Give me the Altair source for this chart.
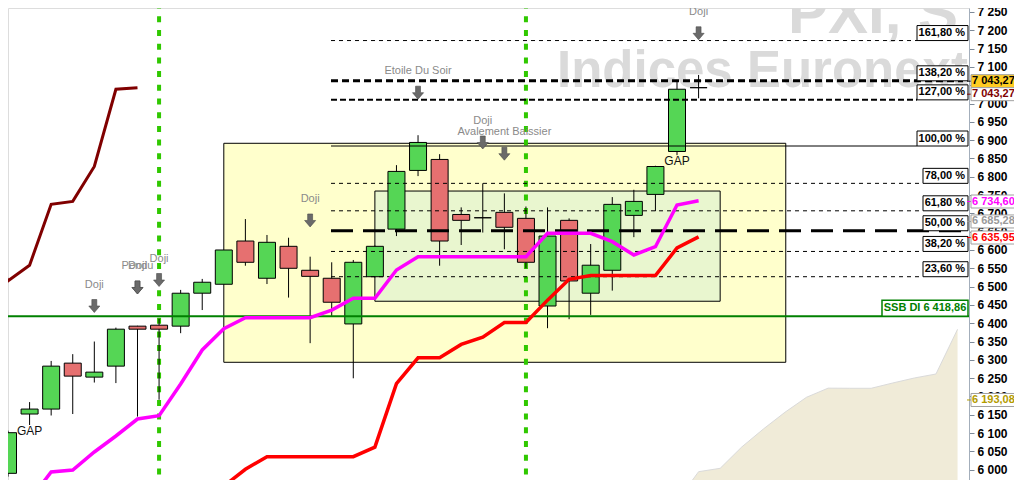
import altair as alt
import pandas as pd

# ---------------- data ----------------
bar_index = list(range(33))
opens = [5990, 6152, 6165.5, 6291, 6252.8, 6282.8, 6392, 6394.6, 6392, 6482, 6506.4, 6624.5, 6522.8, 6610,
         6544.6, 6522.8, 6398, 6527, 6657, 6817.3, 6847.3, 6697, 6688, 6702.8, 6686.4, 6447, 6681, 6482,
         6544.6, 6694.5, 6751.8, 6869, 7043.27]
highs = [6106.5, 6184.6, 6297, 6315.5, 6350, 6388, 6393, 6412, 6491, 6521, 6600, 6684.5, 6641, 6633.5,
         6581.7, 6566.4, 6572.7, 6612, 6831.7, 6913.5, 6861.7, 6716.4, 6782, 6754.6, 6718.7, 6716.4, 6686.4,
         6616.3, 6744.5, 6764.5, 6830, 7063.5, 7078]
lows = [5981, 6122, 6148, 6152, 6238, 6236.5, 6145, 6191, 6372.8, 6436, 6506.4, 6557, 6507, 6470, 6345.5,
        6420, 6249.6, 6525, 6638, 6801.8, 6557, 6613.6, 6647.6, 6602, 6550, 6386.4, 6411, 6422.7, 6489,
        6635, 6706, 6859, 7014.3]
closes = [6101, 6165.5, 6282.8, 6255.5, 6266.4, 6383.7, 6383.7, 6383.7, 6481.9, 6511.9, 6600, 6566.4, 6621,
          6550, 6528, 6457.3, 6566.4, 6610, 6814.6, 6893.7, 6624.5, 6681, 6688, 6662, 6566.4, 6638, 6515.4,
          6558.4, 6724.6, 6732.7, 6828, 7039, 7043.27]

tenkan_index = list(range(1, 33))
tenkan = [5917, 5993.7, 5999.1, 6048.3, 6092, 6138.4, 6147.5, 6234, 6326.9, 6385, 6415, 6415, 6415, 6415,
          6436, 6468, 6468, 6545.4, 6581.7, 6581.7, 6581.7, 6581.7, 6581.7, 6581.7, 6645.6, 6645.6, 6645.6,
          6622.7, 6586.3, 6609, 6722.9, 6734.6]
kijun_index = list(range(9, 33))
kijun = [5914, 5955, 6001, 6035.6, 6035.6, 6035.6, 6035.6, 6035.6, 6061.5, 6235, 6305.6, 6305.6, 6342,
         6362, 6402, 6402, 6463, 6520, 6530, 6530, 6530, 6530, 6605.5, 6635.95]
chikou_index = list(range(-1, 7))
chikou = [6638, 6515.4, 6558.4, 6724.6, 6732.7, 6828, 7039, 7043.27]
cloud_index = list(range(31, 45))
cloud_top = [5914, 5994.5, 6003.7, 6062, 6111, 6156.7, 6197.7, 6222.6, 6222.3, 6222.3, 6236.8, 6250.4,
             6261.3, 6383.4]

fib_labels = ["23,60 %", "38,20 %", "50,00 %", "61,80 %", "78,00 %", "100,00 %", "127,00 %", "138,20 %", "161,80 %"]
fib_values = [6527, 6596, 6652.5, 6707, 6782, 6884, 7010, 7062, 7172]

ssb_level = 6418.86
ssb_text = "SSB DI 6 418,86"

tag_values = [7043.27, 7043.27, 6734.60, 6685.28, 6635.95, 6193.08]
tag_texts = ["7 043,27", "7 043,27", "6 734,60", "6 685,28", "6 635,95", "6 193,08"]

ann_index = [4, 6, 6, 7, 14, 19, 22, 23, 32]
ann_labels = ["Doji", "Pendu", "Doji", "Doji", "Doji", "Etoile Du Soir", "Doji", "Avalement Baissier", "Doji"]
ann_levels = [6447, 6497.6, 6497.6, 6518, 6680.6, 7029.6, 6893.6, 6863, 7191.8]

gap_index = [1, 31]
signal_index = [7, 24]

zone_x0 = [10, 17]
zone_x1 = [36.04, 33]
zone_low = [6293.3, 6460]
zone_high = [6891.4, 6761]

# ---------------- layout ----------------
W, H = 961, 472
X_DOM = [0, 44.53]
Y_DOM = [5971.8, 7260.9]
SX = W / X_DOM[1]                    # px per bar
PPX = (Y_DOM[1] - Y_DOM[0]) / H      # price per px
FONT = "Liberation Sans"

xs = alt.Scale(domain=X_DOM, nice=False, zero=False)
ys = alt.Scale(domain=Y_DOM, nice=False, zero=False)
yaxis = alt.Axis(orient="right", values=list(range(5950, 7300, 50)),
                 labelExpr="replace(format(datum.value, ','), ',', ' ')",
                 title=None, grid=False, domainColor="#A3AEBB", tickColor="#7D8A99",
                 tickSize=5, labelPadding=3, labelFont=FONT, labelFontSize=12,
                 labelFontWeight="bold", labelColor="#000000", labelOverlap=False,
                 labelBound=False, labelFlush=False)


def X(f):
    return alt.X(f"{f}:Q", scale=xs, axis=None)


def Y(f):
    return alt.Y(f"{f}:Q", scale=ys, axis=yaxis)


layers = []

# watermark
layers.append(alt.Chart(pd.DataFrame({"t": ["PXI, S"]})).mark_text(
    align="left", baseline="alphabetic", font=FONT, fontWeight="bold", fontSize=60,
    color="#DADADA", clip=True).encode(x=alt.value(780), y=alt.value(25), text="t:N"))
layers.append(alt.Chart(pd.DataFrame({"t": ["Indices Euronext"]})).mark_text(
    align="left", baseline="alphabetic", font=FONT, fontWeight="bold", fontSize=51,
    color="#DADADA", clip=True).encode(x=alt.value(549), y=alt.value(79), text="t:N"))

# cloud
cloud_df = pd.DataFrame({"i": cloud_index, "v": cloud_top})
layers.append(alt.Chart(cloud_df).mark_area(color="#F0EBD8", clip=True).encode(
    x=X("i"), y=Y("v"), y2=alt.datum(5900)))
layers.append(alt.Chart(cloud_df).mark_line(color="#DADADA", strokeWidth=1, clip=True).encode(
    x=X("i"), y=Y("v")))

# zones
zones = pd.DataFrame({"x0": zone_x0, "x1": zone_x1, "v0": zone_low, "v1": zone_high,
                      "fill": ["#FFFFCC", "#E9F6CF"]})
layers.append(alt.Chart(zones).mark_rect(stroke="black", strokeWidth=1).encode(
    x=X("x0"), x2="x1", y=Y("v0"), y2="v1", fill=alt.Fill("fill:N", scale=None)))

# vertical signal lines
layers.append(alt.Chart(pd.DataFrame({"i": signal_index})).mark_rule(
    color="#30C800", strokeWidth=4, strokeDash=[6, 7.7], strokeDashOffset=5.4).encode(x=X("i")))

# candles
cd = pd.DataFrame({"i": bar_index, "open": opens, "high": highs, "low": lows, "close": closes})
cd["dir"] = ["up" if c >= o else "down" for o, c in zip(opens, closes)]
cd["b0"] = cd["i"] - 8.5 / SX
cd["b1"] = cd["i"] + 8.5 / SX
layers.append(alt.Chart(cd).mark_rule(color="black", strokeWidth=1).encode(
    x=X("i"), y=Y("low"), y2="high"))
layers.append(alt.Chart(cd).mark_rect(stroke="black", strokeWidth=1).encode(
    x=X("b0"), x2="b1", y=Y("open"), y2="close",
    fill=alt.Fill("dir:N", scale=alt.Scale(domain=["up", "down"], range=["#55D655", "#E67070"]),
                  legend=None)))

# fibonacci lines
fib_style = {
    "23,60 %": ([4, 4], 1, 915), "38,20 %": ([4, 4], 1, 915), "50,00 %": ([22, 10], 3, 955),
    "61,80 %": ([4, 4], 1, 915), "78,00 %": ([4, 4], 1, 915), "100,00 %": ([1, 0], 1, 909),
    "127,00 %": ([6, 3], 2, 909), "138,20 %": ([7, 4], 3, 955), "161,80 %": ([4, 4], 1, 909),
}
fib = pd.DataFrame({"pct": fib_labels, "v": fib_values})
fib["x0"] = 323 / SX
fib["x1"] = [fib_style[p][2] / SX for p in fib_labels]
for p in fib_labels:
    dash, sw, _ = fib_style[p]
    layers.append(alt.Chart(fib).transform_filter(alt.datum.pct == p).mark_rule(
        color="black", strokeWidth=sw, strokeDash=dash).encode(x=X("x0"), x2="x1", y=Y("v")))

# SSB line
layers.append(alt.Chart(pd.DataFrame({"v": [ssb_level]})).mark_rule(
    color="#008000", strokeWidth=2).encode(y=Y("v")))

# ichimoku lines
layers.append(alt.Chart(pd.DataFrame({"i": chikou_index, "v": chikou})).mark_line(
    color="#800000", strokeWidth=3, clip=True).encode(x=X("i"), y=Y("v")))
layers.append(alt.Chart(pd.DataFrame({"i": tenkan_index, "v": tenkan})).mark_line(
    color="#FF00FF", strokeWidth=3.5, clip=True).encode(x=X("i"), y=Y("v")))
layers.append(alt.Chart(pd.DataFrame({"i": kijun_index, "v": kijun})).mark_line(
    color="#FF0000", strokeWidth=3.5, clip=True).encode(x=X("i"), y=Y("v")))

# pattern annotations
ARROW = "M-0.38,-1 L0.38,-1 L0.38,0 L0.85,0 L0,1 L-0.85,0 L-0.38,0 Z"
ann = pd.DataFrame({"i": ann_index, "label": ann_labels, "v": ann_levels})
layers.append(alt.Chart(ann).mark_point(shape=ARROW, filled=True, size=169, fill="#6A6A6A",
                                        stroke="#4A4A4A", strokeWidth=0.6, opacity=1).encode(
    x=X("i"), y=Y("v")))
layers.append(alt.Chart(ann).mark_text(dy=-21.5, font=FONT, fontSize=11, color="#8A8A8A").encode(
    x=X("i"), y=Y("v"), text="label:N"))

gap = cd[cd["i"].isin(gap_index)].assign(t="GAP")
layers.append(alt.Chart(gap).mark_text(baseline="top", dy=1, font=FONT, fontSize=12,
                                       color="#111111").encode(x=X("i"), y=Y("low"), text="t:N"))

# fibonacci label boxes
fib["bx0"] = [(909 if len(p) == 8 else 915) / SX for p in fib_labels]
fib["bx1"] = 960 / SX
fib["tx"] = 957 / SX
fib["vtop"] = fib["v"] + 15 * PPX
layers.append(alt.Chart(fib).mark_rect(fill="white", stroke="black", strokeWidth=1).encode(
    x=X("bx0"), x2="bx1", y=Y("v"), y2="vtop"))
layers.append(alt.Chart(fib).mark_text(align="right", baseline="middle", dy=-7.5, font=FONT,
                                       fontSize=11, fontWeight="bold", color="black").encode(
    x=X("tx"), y=Y("v"), text="pct:N"))

# SSB label
ssb = pd.DataFrame({"v": [ssb_level], "t": [ssb_text]})
ssb["vtop"] = ssb["v"] + 16 * PPX
ssb["bx0"] = 874 / SX
ssb["bx1"] = 960 / SX
ssb["tx"] = 917 / SX
layers.append(alt.Chart(ssb).mark_rect(fill="white", stroke="#008000", strokeWidth=1.5).encode(
    x=X("bx0"), x2="bx1", y=Y("v"), y2="vtop"))
layers.append(alt.Chart(ssb).mark_text(baseline="middle", dy=-8, font=FONT, fontSize=11,
                                       fontWeight="bold", color="#008000").encode(
    x=X("tx"), y=Y("v"), text="t:N"))

# price tags on the axis
tags = pd.DataFrame({"v": tag_values, "t": tag_texts,
                     "shift": [-6.5, 6.5, 0.8, 2.7, 0.7, 1.0],
                     "fill": ["#FFCC22", "white", "white", "white", "white", "white"],
                     "tc": ["#000000", "#800000", "#FF00FF", "#9A9A9A", "#FF0000", "#B39B00"]})
tags["c"] = tags["v"] - tags["shift"] * PPX
tags["c0"] = tags["c"] - 6.5 * PPX
tags["c1"] = tags["c"] + 6.5 * PPX
tags["bx0"] = 963 / SX
tags["bx1"] = 1010 / SX
tags["k0"] = 959 / SX
tags["tx"] = 964 / SX
layers.append(alt.Chart(tags).mark_rule(strokeWidth=1, clip=False).encode(
    x=X("k0"), x2="bx0", y=Y("c"), color=alt.Color("tc:N", scale=None)))
layers.append(alt.Chart(tags).mark_rect(stroke="#A0A0A0", strokeWidth=1, clip=False).encode(
    x=X("bx0"), x2="bx1", y=Y("c0"), y2="c1", fill=alt.Fill("fill:N", scale=None)))
layers.append(alt.Chart(tags).mark_text(align="left", baseline="middle", font=FONT, fontSize=11,
                                        fontWeight="bold", clip=False).encode(
    x=X("tx"), y=Y("c"), text="t:N", color=alt.Color("tc:N", scale=None)))

chart = alt.layer(*layers).properties(
    width=W, height=H,
    padding={"left": 0, "top": 0, "right": 45, "bottom": 0},
    autosize=alt.AutoSizeParams(type="none"),
).configure_view(stroke="transparent").configure(background="white")

chart.save("out.html", embed_options={"renderer": "svg", "actions": False})
